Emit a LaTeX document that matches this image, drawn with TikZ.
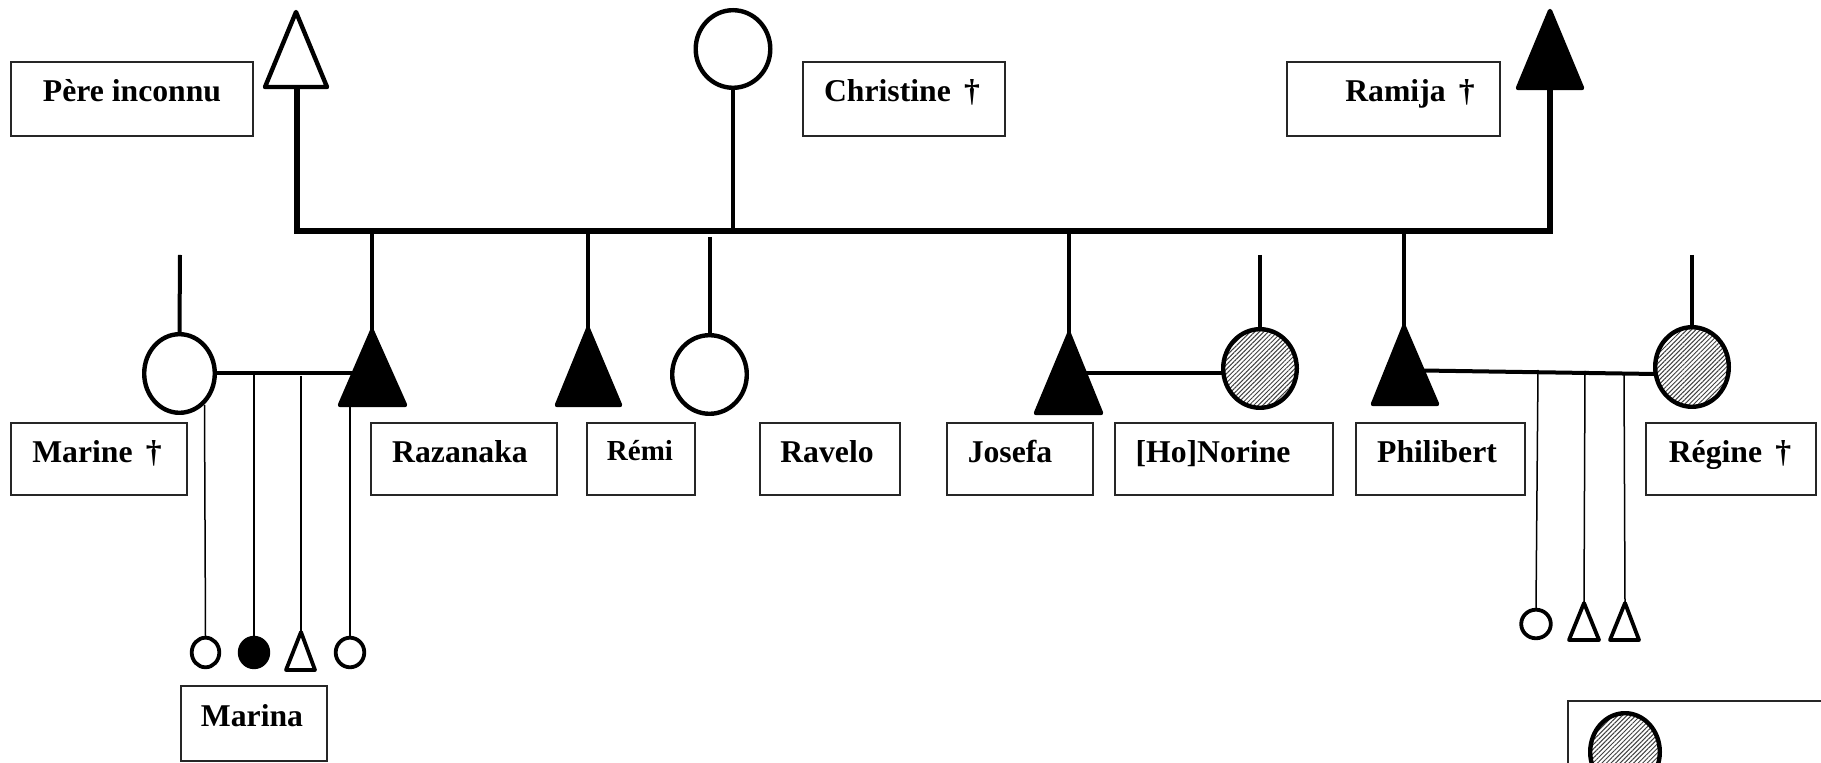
\documentclass[tikz,border=0pt]{standalone}
\usepackage{fontspec}
\setmainfont{Liberation Serif}
\usetikzlibrary{shapes.geometric,patterns.meta,fit}
\begin{document}
\begin{tikzpicture}[x=0.5pt,y=-0.5pt,
  thk/.style={line width=2pt},
  barline/.style={line width=2.6pt,line join=miter},
  thinline/.style={line width=0.75pt},
  bigsym/.style={draw,line width=2.2pt,line join=round},
  smallsym/.style={draw,line width=1.9pt,line join=round},
  hatch/.style={pattern={Lines[angle=45,distance=1.6pt,line width=0.5pt]},pattern color=black!75},
  pbox/.style={draw=black!85,line width=0.6pt,inner sep=0pt},
  lbl/.style={font=\fontsize{15.85}{19}\selectfont\bfseries,anchor=base,inner sep=0pt},
  circ/.style={ellipse,inner sep=0pt}]
\useasboundingbox (0,0) rectangle (1821,763);

% ---------- boxes ----------
\node[pbox,fit={(11,62) (253,136)}] (bpere) {};
\node[pbox,fit={(803,62) (1005,136)}] (bchristine) {};
\node[pbox,fit={(1287,62) (1500,136)}] (bramija) {};
\node[pbox,fit={(11,423) (187,495)}] (bmarine) {};
\node[pbox,fit={(371,423) (557,495)}] (brazanaka) {};
\node[pbox,fit={(587,423) (695,495)}] (bremi) {};
\node[pbox,fit={(760,423) (900,495)}] (bravelo) {};
\node[pbox,fit={(947,423) (1093,495)}] (bjosefa) {};
\node[pbox,fit={(1115,423) (1333,495)}] (bnorine) {};
\node[pbox,fit={(1356,423) (1525,495)}] (bphilibert) {};
\node[pbox,fit={(1646,423) (1816,495)}] (bregine) {};
\node[pbox,fit={(181,686) (327,761)}] (bmarina) {};
\node[pbox,fit={(1568,701) (1840,790)}] (blegend) {};

% ---------- labels ----------
\node[lbl] (tpere) at (132,102) {Père inconnu};
\node[lbl] (tchristine) at (902,102) {Christine \,†};
\node[lbl] (tramija) at (1410,102) {Ramija \,†};
\node[lbl] (tmarine) at (97,463) {Marine \,†};
\node[lbl] (trazanaka) at (460,463) {Razanaka};
\node[lbl,font=\fontsize{14.5}{17}\selectfont\bfseries] (tremi) at (640,461) {Rémi};
\node[lbl] (travelo) at (827,463) {Ravelo};
\node[lbl] (tjosefa) at (1010,463) {Josefa};
\node[lbl] (tnorine) at (1213,463) {[Ho]Norine};
\node[lbl] (tphilibert) at (1437,463) {Philibert};
\node[lbl] (tregine) at (1730,463) {Régine \,†};
\node[lbl] (tmarina) at (252,727) {Marina};

% ---------- first generation ----------
\draw[bigsym,fill=white] (265,87) -- (296,12) -- (327,87) -- cycle;
\coordinate (pere) at (297,87);
\node[circ,bigsym,minimum width=37.3pt,minimum height=38.8pt] (christine) at (733,49) {};
\draw[bigsym,fill=black] (1518,88) -- (1550,11) -- (1582,88) -- cycle;
\coordinate (ramija) at (1550,88);

\coordinate (barL) at (297,231);
\coordinate (barR) at (1550,231);
\draw[barline] (pere) -- (barL) -- (barR) -- (ramija);
\draw[thk] (christine.south) -- (christine.south |- barL);

% ---------- second generation ----------
\draw[bigsym,fill=black] (340,405) -- (372,331) -- (405,405) -- cycle;
\coordinate (razanaka) at (372,331);
\draw[bigsym,fill=black] (557,405) -- (588,329) -- (620,405) -- cycle;
\coordinate (remi) at (588,329);
\node[circ,bigsym,minimum width=37.3pt,minimum height=39.3pt] (ravelo) at (709.5,374.5) {};
\draw[bigsym,fill=black] (1036,413) -- (1069,334) -- (1101,413) -- cycle;
\coordinate (josefa) at (1069,334);
\draw[bigsym,fill=black] (1373,404) -- (1404,327) -- (1437,404) -- cycle;
\coordinate (philibert) at (1404,327);

\draw[thk] (razanaka |- barL) -- (razanaka);
\draw[thk] (remi |- barL) -- (remi);
\draw[thk] (josefa |- barL) -- (josefa);
\draw[thk] (philibert |- barL) -- (philibert);
\coordinate (raveloT) at (709.5,237);
\draw[thk] (raveloT) -- (ravelo.north);

% spouses
\node[circ,bigsym,minimum width=35.3pt,minimum height=39.3pt] (marine) at (179.5,373.5) {};
\node[circ,bigsym,hatch,minimum width=36.8pt,minimum height=39.3pt] (norine) at (1260,368.5) {};
\node[circ,bigsym,hatch,minimum width=36.8pt,minimum height=39.8pt] (regine) at (1692,367) {};
\coordinate (marineT) at (180,255);
\coordinate (norineT) at (1260,255);
\coordinate (regineT) at (1692,255);
\draw[thk] (marineT) -- (marine.north);
\draw[thk] (norineT) -- (norine.north);
\draw[thk] (regineT) -- (regine.north);

% marriage lines
\coordinate (razM) at (358,373.5);
\draw[thk] (marine.east) -- (razM);
\coordinate (josM) at (1082,373);
\coordinate (norM) at (1223,373);
\draw[thk] (josM) -- (norM);
\coordinate (philM) at (1422,370.5);
\coordinate (regM) at (1655,374);
\draw[thk] (philM) -- (regM);

% ---------- third generation (Marine & Razanaka) ----------
\node[circ,smallsym,minimum width=13.8pt,minimum height=14.8pt] (k1) at (205.5,652.5) {};
\node[circ,smallsym,fill=black,minimum width=14.3pt,minimum height=14.8pt] (k2) at (254,652.5) {};
\draw[smallsym,fill=white] (286,670) -- (301,632) -- (315,670) -- cycle;
\coordinate (k3) at (301,632);
\node[circ,smallsym,minimum width=14.3pt,minimum height=14.8pt] (k4) at (350,652.5) {};

\coordinate (k1T) at (204.5,405);
\coordinate (k2T) at (254,374);
\coordinate (k3T) at (301,376);
\coordinate (k4T) at (350,405);
\draw[thinline] (k1T) -- (k1.north);
\draw[thinline] (k2T) -- (k2.north);
\draw[thinline] (k3T) -- (k3);
\draw[thinline] (k4T) -- (k4.north);

% ---------- third generation (Philibert & Régine) ----------
\node[circ,smallsym,minimum width=14.8pt,minimum height=14.3pt] (p1) at (1536,624) {};
\draw[smallsym,fill=white] (1569,640) -- (1584,603) -- (1599,640) -- cycle;
\coordinate (p2) at (1584,603);
\draw[smallsym,fill=white] (1610,640) -- (1625,603) -- (1639,640) -- cycle;
\coordinate (p3) at (1625,603);

\coordinate (p1T) at (1538,370);
\coordinate (p2T) at (1585,371);
\coordinate (p3T) at (1624,373);
\draw[thinline] (p1T) -- (p1.north);
\draw[thinline] (p2T) -- (p2);
\draw[thinline] (p3T) -- (p3);

% ---------- legend ----------
\node[circ,bigsym,hatch,minimum width=34.8pt,minimum height=38.8pt] (legcirc) at (1625,752) {};
\end{tikzpicture}
\end{document}
